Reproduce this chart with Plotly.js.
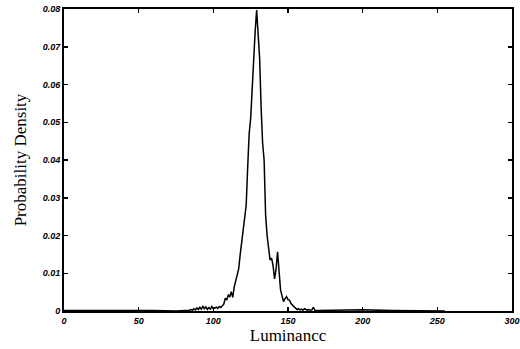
<!DOCTYPE html>
<html>
<head>
<meta charset="utf-8">
<script src="https://cdn.plot.ly/plotly-3.0.1.min.js"></script>
<style>html,body{margin:0;padding:0;background:#fff;}#chart{width:520px;height:349px;}</style>
</head>
<body>
<div id="chart"></div>
<script>
const luminance = [0, 20, 40, 60, 75, 84, 85, 86, 87, 88, 89, 90, 91, 92, 93, 94, 95, 96, 97, 98, 99, 100,
  101, 102, 103, 104, 105, 106, 107, 108, 109, 110, 111, 112, 113, 114, 115, 116, 117, 118, 119, 120,
  121, 122, 123, 124, 125, 126, 127, 128, 129, 130, 131, 132, 133, 134, 135, 136, 137, 138, 139, 140,
  141, 142, 143, 144, 145, 146, 147, 148, 149, 150, 151, 152, 153, 154, 155, 156, 157, 158, 159, 160,
  161, 162, 163, 164, 165, 166, 167, 168, 170, 180, 200, 220, 255];
const density = [0.0001, 0.0002, 0.0001, 0.0001, 0.0000, 0.0002, 0.0004, 0.0002, 0.0006, 0.0003, 0.0008, 0.0004,
  0.0010, 0.0005, 0.0012, 0.0006, 0.0011, 0.0004, 0.0009, 0.0005, 0.0012, 0.0006,
  0.0008, 0.0010, 0.0007, 0.0012, 0.0009, 0.0013, 0.0018, 0.0034, 0.0030, 0.0042, 0.0038, 0.0051, 0.0036, 0.0064,
  0.0080, 0.0098, 0.0112, 0.0150, 0.0180, 0.0206,
  0.0240, 0.0280, 0.0380, 0.0470, 0.0510, 0.0600, 0.0680, 0.0740, 0.0797, 0.0740, 0.0670, 0.0540, 0.0445, 0.0400,
  0.0255, 0.0200, 0.0165, 0.0135, 0.0140, 0.0120,
  0.0085, 0.0110, 0.0157, 0.0090, 0.0056, 0.0040, 0.0025, 0.0033, 0.0038, 0.0030, 0.0029, 0.0020, 0.0016, 0.0010,
  0.0007, 0.0004, 0.0006, 0.0003, 0.0005, 0.0002,
  0.0006, 0.0003, 0.0002, 0.0004, 0.0002, 0.0003, 0.0010, 0.0002, 0.0001, 0.0002, 0.0003, 0.0001, 0.0000];
const xTicks = [0, 50, 100, 150, 200, 250, 300];
const yTicks = [0, 0.01, 0.02, 0.03, 0.04, 0.05, 0.06, 0.07, 0.08];
const yTickText = ['0', '0.01', '0.02', '0.03', '0.04', '0.05', '0.06', '0.07', '0.08'];

const tickFont = {family: 'Liberation Sans, Arial, sans-serif', size: 9, color: '#000', weight: 'bold', style: 'italic'};
const titleFont = {family: 'Liberation Serif, Times New Roman, serif', size: 17, color: '#000'};

Plotly.newPlot('chart', [{
  x: luminance, y: density, type: 'scatter', mode: 'lines',
  line: {color: '#000', width: 1.5}, hoverinfo: 'skip'
}], {
  width: 520, height: 349,
  margin: {l: 64, r: 8, t: 9, b: 38},
  paper_bgcolor: '#fff', plot_bgcolor: '#fff',
  showlegend: false,
  xaxis: {
    range: [0, 300], tickvals: xTicks, ticktext: xTicks.map(String),
    ticks: 'inside', ticklen: 4, tickwidth: 1.5, tickcolor: '#000',
    showline: true, linecolor: '#000', linewidth: 2, mirror: 'ticks',
    showgrid: false, zeroline: false, tickfont: tickFont,
    title: {text: 'Luminancc', font: titleFont, standoff: 3}
  },
  yaxis: {
    range: [0, 0.08], tickvals: yTicks, ticktext: yTickText,
    ticks: 'inside', ticklen: 4, tickwidth: 1.5, tickcolor: '#000',
    showline: true, linecolor: '#000', linewidth: 2, mirror: 'ticks',
    showgrid: false, zeroline: false, tickfont: tickFont,
    title: {text: 'Probability Density', font: titleFont, standoff: 12}
  }
}, {staticPlot: true, displayModeBar: false});
</script>
</body>
</html>
